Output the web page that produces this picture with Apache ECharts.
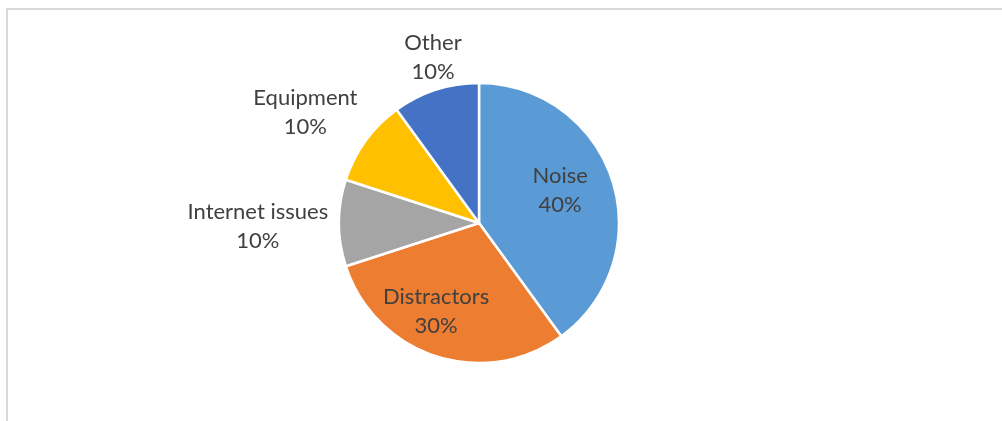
<!DOCTYPE html>
<html>
<head>
<meta charset="utf-8">
<script src="https://cdn.jsdelivr.net/npm/echarts@6/dist/echarts.min.js"></script>
<style>
  html, body { margin: 0; padding: 0; background: #fff; overflow: hidden; }
  #chart { width: 1002px; height: 421px; }
</style>
</head>
<body>
<div id="chart"></div>
<script>
// Share of reported problems by category
const categories = ['Noise', 'Distractors', 'Internet issues', 'Equipment', 'Other'];
const shares = [40, 30, 10, 10, 10];
const sliceColors = ['#5b9bd5', '#ed7d31', '#a5a5a5', '#ffc000', '#4472c4'];

// Pie geometry
const CX = 479, CY = 223, R = 140;
// Where each label sits: distance from centre (in radii) and a small angular nudge (degrees)
const labelReach = [0.625, 0.70, 1.58, 1.47, 1.23];
const labelNudge = [-4, 8, -1, -3.5, 2.5];

const total = shares.reduce((a, b) => a + b, 0);
const midAngles = [];
let acc = 0;
shares.forEach(v => {
  midAngles.push((acc + v / 2) / total * 2 * Math.PI);
  acc += v;
});

const chart = echarts.init(document.getElementById('chart'), null, { renderer: 'canvas' });
chart.setOption({
  animation: false,
  backgroundColor: '#ffffff',
  graphic: [{
    type: 'rect',
    silent: true,
    shape: { x: 7, y: 9, width: 1300, height: 700 },
    style: { fill: null, stroke: '#d9d9d9', lineWidth: 2 }
  }],
  series: [{
    type: 'pie',
    center: [CX, CY],
    radius: R,
    startAngle: 90,
    clockwise: true,
    avoidLabelOverlap: false,
    silent: true,
    itemStyle: { borderColor: '#ffffff', borderWidth: 2.5 },
    label: {
      show: true,
      position: 'outside',
      formatter: p => p.name + '\n' + p.percent.toFixed(0) + '%',
      fontFamily: 'Lato',
      fontSize: 22,
      lineHeight: 29,
      color: '#404040'
    },
    labelLine: { show: false },
    labelLayout: function (p) {
      const i = p.dataIndex;
      const a = midAngles[i] + labelNudge[i] * Math.PI / 180;
      const d = R * labelReach[i];
      return {
        x: CX + d * Math.sin(a),
        y: CY - d * Math.cos(a),
        align: 'center',
        verticalAlign: 'middle'
      };
    },
    data: categories.map((name, i) => ({
      name: name,
      value: shares[i],
      itemStyle: { color: sliceColors[i] }
    }))
  }]
});
</script>
</body>
</html>
